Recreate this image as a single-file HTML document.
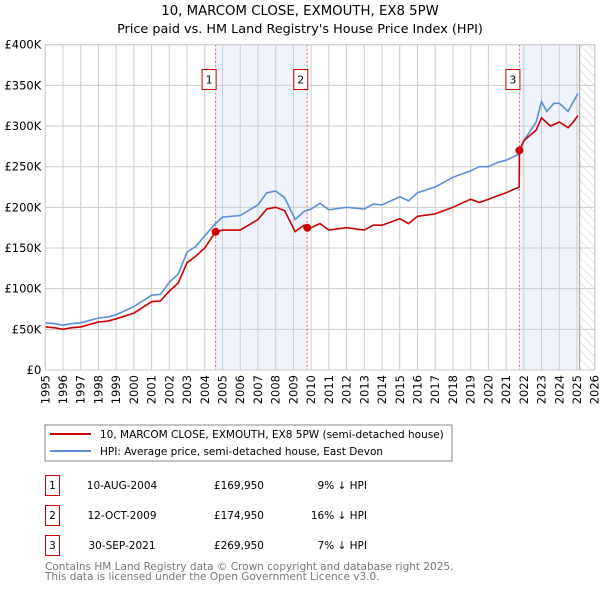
<!DOCTYPE html>
<html><head><meta charset="utf-8"><style>
body{margin:0;background:#fff;width:600px;height:590px;overflow:hidden;font-family:"DejaVu Sans","Liberation Sans",sans-serif}
</style></head><body>
<svg id="chart" width="600" height="590" xmlns="http://www.w3.org/2000/svg" font-family="DejaVu Sans, Liberation Sans, sans-serif">
<text x="300" y="15" text-anchor="middle" font-size="13.3">10, MARCOM CLOSE, EXMOUTH, EX8 5PW</text>
<text x="300" y="33" text-anchor="middle" font-size="12.8">Price paid vs. HM Land Registry's House Price Index (HPI)</text>
<defs><pattern id="hatch" width="6" height="6" patternUnits="userSpaceOnUse" patternTransform="rotate(-45)"><line x1="0" y1="0" x2="0" y2="6" stroke="#ccc" stroke-width="1"/></pattern></defs>
<g id="plot"></g>
<g>
<rect x="45" y="425" width="407" height="36" fill="#fff" stroke="#888"/>
<line x1="50" y1="434" x2="91" y2="434" stroke="#cc0000" stroke-width="2"/>
<text x="100" y="438" font-size="10.5">10, MARCOM CLOSE, EXMOUTH, EX8 5PW (semi-detached house)</text>
<line x1="50" y1="451" x2="91" y2="451" stroke="#5b8fd4" stroke-width="2"/>
<text x="100" y="455" font-size="10.5">HPI: Average price, semi-detached house, East Devon</text>
</g>
<g font-size="10.5">
<rect x="45.5" y="475.5" width="14" height="20" fill="#fff" stroke="#cc0000"/><text x="52.5" y="489" text-anchor="middle">1</text>
<text x="122" y="489" text-anchor="middle">10-AUG-2004</text><text x="264" y="489" text-anchor="end">£169,950</text><text x="367" y="489" text-anchor="end">9% ↓ HPI</text>
<rect x="45.5" y="505.5" width="14" height="20" fill="#fff" stroke="#cc0000"/><text x="52.5" y="519" text-anchor="middle">2</text>
<text x="122" y="519" text-anchor="middle">12-OCT-2009</text><text x="264" y="519" text-anchor="end">£174,950</text><text x="367" y="519" text-anchor="end">16% ↓ HPI</text>
<rect x="45.5" y="535.5" width="14" height="20" fill="#fff" stroke="#cc0000"/><text x="52.5" y="549" text-anchor="middle">3</text>
<text x="122" y="549" text-anchor="middle">30-SEP-2021</text><text x="264" y="549" text-anchor="end">£269,950</text><text x="367" y="549" text-anchor="end">7% ↓ HPI</text>
</g>
<text x="45" y="570" font-size="10.5" fill="#777">Contains HM Land Registry data © Crown copyright and database right 2025.</text>
<text x="45" y="580" font-size="10.5" fill="#777">This data is licensed under the Open Government Licence v3.0.</text>
</svg>
<script>
const yTicks=[0,50,100,150,200,250,300,350,400];
const yTickLabels=["£0","£50K","£100K","£150K","£200K","£250K","£300K","£350K","£400K"];
const years=[1995,1996,1997,1998,1999,2000,2001,2002,2003,2004,2005,2006,2007,2008,2009,2010,2011,2012,2013,2014,2015,2016,2017,2018,2019,2020,2021,2022,2023,2024,2025,2026];
const hpiT=[1995,1995.5,1996,1996.5,1997,1998,1998.5,1999,2000,2001,2001.5,2002,2002.5,2003,2003.5,2004,2004.6,2005,2006,2007,2007.5,2008,2008.5,2009.1,2009.6,2010,2010.5,2011,2012,2013,2013.5,2014,2015,2015.5,2016,2017,2018,2019,2019.5,2020,2020.5,2021,2021.7,2022,2022.7,2023,2023.3,2023.7,2024,2024.5,2024.8,2025.05];
const hpiV=[58,57,55,57,58,64,65,68,78,92,93,108,118,145,152,165,180,188,190,203,218,220,212,185,195,198,205,197,200,198,204,203,213,208,218,225,237,245,250,250,255,258,265,282,305,330,318,328,328,318,330,340];
const priceT=[1995,1995.5,1996,1996.5,1997,1998,1998.5,1999,2000,2001,2001.5,2002,2002.5,2003,2003.5,2004,2004.61,2005,2006,2007,2007.5,2008,2008.5,2009.1,2009.6,2009.78,2010,2010.5,2011,2012,2013,2013.5,2014,2015,2015.5,2016,2017,2018,2019,2019.5,2020,2020.5,2021,2021.74,2021.75,2022,2022.7,2023,2023.5,2024,2024.5,2024.8,2025.05];
const priceV=[53,52,50,52,53,59,60,63,70,84,85,97,107,132,140,150,170,172,172,185,198,200,196,170,178,175,175,180,172,175,172,178,178,186,180,189,192,200,210,206,210,214,218,225,270,282,295,310,300,305,298,305,313];
const saleT=[2004.61,2009.78,2021.75];
const saleV=[169.95,174.95,269.95];
const saleLabels=["1","2","3"];
const X0=45.3,X1=594.7,Y0=370,Y1=44.7,DEND=2025.15;
const sx=t=>X0+(t-1995)/(2026-1995)*(X1-X0);
const sy=v=>Y0-v/400*(Y0-Y1);
const NS="http://www.w3.org/2000/svg";
const g=document.getElementById('plot');
function mk(tag,attrs,parent){const e=document.createElementNS(NS,tag);for(const k in attrs)e.setAttribute(k,attrs[k]);(parent||g).appendChild(e);return e;}
let r=mk('rect',{x:sx(2004.61),y:Y1,width:sx(2009.78)-sx(2004.61),height:Y0-Y1,fill:'#eef3fc'});


r=mk('rect',{x:sx(2021.75),y:Y1,width:sx(DEND)-sx(2021.75),height:Y0-Y1,fill:'#eef3fc'});


r=mk('rect',{x:sx(DEND),y:Y1,width:X1-sx(DEND),height:Y0-Y1,fill:'url(#hatch)'});


yTicks.forEach((v,i)=>{
 const l=mk('line',{x1:X0,x2:X1,y1:sy(v),y2:sy(v),stroke:'#ccc'});
 
 
 const t=mk('text',{x:X0-4,y:sy(v)+4,'text-anchor':'end','font-size':'11.5'});
 t.textContent=yTickLabels[i];
 
 
});
years.forEach(y=>{
 const l=mk('line',{x1:sx(y),x2:sx(y),y1:Y1,y2:Y0,stroke:'#ccc'});
 
 
 const t=mk('text',{x:0,y:0,'font-size':'11.5','text-anchor':'end',transform:`translate(${sx(y)+4},${Y0+5}) rotate(-90)`});
 t.textContent=y;
 
 
});
r=mk('line',{x1:sx(DEND),x2:sx(DEND),y1:Y1,y2:Y0,stroke:'#999'});


saleT.forEach((t,i)=>{
 const l=mk('line',{x1:sx(t),x2:sx(t),y1:Y1,y2:Y0,stroke:'#e06070','stroke-dasharray':'2,2'});
 
 
});
function path(T,V,col,name){
 const d=T.map((t,i)=>(i?'L':'M')+sx(t).toFixed(1)+','+sy(V[i]).toFixed(1)).join('');
 const p=mk('path',{d:d,fill:'none',stroke:col,'stroke-width':'1.6'});
 
 
}
path(hpiT,hpiV,'#5b8fd4','hpi-line');
path(priceT,priceV,'#cc0000','price-line');
saleT.forEach((t,i)=>{
 const c=mk('circle',{cx:sx(t),cy:sy(saleV[i]),r:4,fill:'#cc0000'});
 
 
 const b=mk('rect',{x:sx(t)-13.5,y:69.5,width:14,height:20,fill:'#fff',stroke:'#cc0000'});
 
 
 const tx=mk('text',{x:sx(t)-6.5,y:83.5,'text-anchor':'middle','font-size':'11'});
 tx.textContent=saleLabels[i];
 
 
});
r=mk('rect',{x:X0,y:Y1,width:X1-X0,height:Y0-Y1,fill:'none',stroke:'#ccc'});


</script>
</body></html>
